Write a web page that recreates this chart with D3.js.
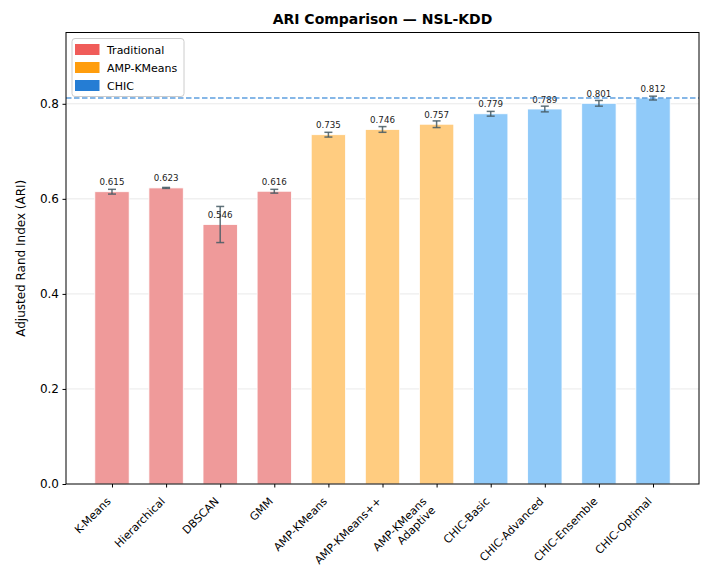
<!DOCTYPE html>
<html>
<head>
<meta charset="utf-8">
<script src="https://cdn.jsdelivr.net/npm/d3@7"></script>
<style>
body{margin:0;background:#fff;}
svg{display:block;font-family:"DejaVu Sans",sans-serif;}
</style>
</head>
<body>
<svg id="chart" width="707" height="568"></svg>
<script>
const methods = ["K-Means","Hierarchical","DBSCAN","GMM","AMP-KMeans","AMP-KMeans++","AMP-KMeans\nAdaptive","CHIC-Basic","CHIC-Advanced","CHIC-Ensemble","CHIC-Optimal"];
const groups = ["Traditional","Traditional","Traditional","Traditional","AMP-KMeans","AMP-KMeans","AMP-KMeans","CHIC","CHIC","CHIC","CHIC"];
const ariValues = [0.615,0.623,0.546,0.616,0.735,0.746,0.757,0.779,0.789,0.801,0.812];
const ariErrors = [0.005,0.001,0.038,0.004,0.005,0.006,0.007,0.005,0.006,0.006,0.004];
const legendLabels = ["Traditional","AMP-KMeans","CHIC"];
const barColors = {"Traditional":"#EF9A9A","AMP-KMeans":"#FFCC80","CHIC":"#90CAF9"};
const legendColors = {"Traditional":"#EF5350","AMP-KMeans":"#FF9800","CHIC":"#1976D2"};
const yTicks = [0.0,0.2,0.4,0.6,0.8];
const bestValue = 0.812;

const svg = d3.select("#chart");
const L=66, R=699, T=32.5, B=484;
const x = d3.scaleLinear().domain([-0.85,10.85]).range([L,R]);
const y = d3.scaleLinear().domain([0,0.95]).range([B,T]);
const bw = x(0.635)-x(0);

// grid
svg.append("g").selectAll("line").data(yTicks.filter(d=>d>0)).join("line")
  .attr("x1",L).attr("x2",R).attr("y1",d=>y(d)).attr("y2",d=>y(d))
  .attr("stroke","#b0b0b0").attr("stroke-opacity",0.35).attr("stroke-width",0.8);

// bars
svg.append("g").selectAll("rect").data(ariValues).join("rect")
  .attr("x",(d,i)=>x(i)-bw/2).attr("width",bw)
  .attr("y",d=>y(d)).attr("height",d=>B-y(d))
  .attr("fill",(d,i)=>barColors[groups[i]])
  .attr("stroke","#ffffff").attr("stroke-width",0.8);

// error bars
const eg = svg.append("g").attr("stroke","#455A64").attr("stroke-width",1.5).attr("stroke-opacity",0.85);
ariValues.forEach((v,i)=>{
  const e=ariErrors[i], cx=x(i);
  eg.append("line").attr("x1",cx).attr("x2",cx).attr("y1",y(v+e)).attr("y2",y(v-e));
  eg.append("line").attr("x1",cx-4).attr("x2",cx+4).attr("y1",y(v+e)).attr("y2",y(v+e));
  eg.append("line").attr("x1",cx-4).attr("x2",cx+4).attr("y1",y(v-e)).attr("y2",y(v-e));
});

// value labels
svg.append("g").selectAll("text").data(ariValues).join("text")
  .attr("x",(d,i)=>x(i)).attr("y",d=>y(d)-6.5)
  .attr("text-anchor","middle").attr("font-size",8.7).attr("fill","#222")
  .text(d=>d.toFixed(3));

// best line
svg.append("line").attr("x1",L).attr("x2",R).attr("y1",y(bestValue)).attr("y2",y(bestValue))
  .attr("stroke","#1976D2").attr("stroke-opacity",0.7).attr("stroke-width",1.5)
  .attr("stroke-dasharray","5.5,2.5");

// frame
svg.append("rect").attr("x",L).attr("y",T).attr("width",R-L).attr("height",B-T)
  .attr("fill","none").attr("stroke","#000").attr("stroke-width",1);

// y axis
const ya = svg.append("g").attr("transform",`translate(${L},0)`)
  .call(d3.axisLeft(y).tickValues(yTicks).tickFormat(d3.format(".1f")).tickSize(3.5).tickPadding(3.5));
ya.select(".domain").remove();
ya.selectAll("text").attr("font-size",12).attr("font-family","DejaVu Sans").attr("fill","#000");
ya.selectAll("line").attr("stroke","#000");

// x axis
const xa = svg.append("g").attr("transform",`translate(0,${B})`)
  .call(d3.axisBottom(x).tickValues(d3.range(methods.length)).tickFormat("").tickSize(3.5));
xa.select(".domain").remove();
xa.selectAll("line").attr("stroke","#000");

const xl = svg.append("g");
const lh = 12.5;
methods.forEach((m,i)=>{
  const lines=m.split("\n");
  const ax = x(i) - 0.5 - 0.707*lh*(lines.length-1);
  const t = xl.append("text")
    .attr("transform",`translate(${ax},${B+18}) rotate(-45)`)
    .attr("text-anchor","end").attr("font-size",11).attr("fill","#000");
  lines.forEach((ln,k)=>{
    t.append("tspan").attr("x",0).attr("dy",k===0?"0px":lh+"px").text(ln);
  });
});

// title
svg.append("text").attr("x",(L+R)/2).attr("y",24).attr("text-anchor","middle")
  .attr("font-size",14).attr("font-weight","bold").text("ARI Comparison — NSL-KDD");

// y label
svg.append("text").attr("transform",`translate(25,${(T+B)/2}) rotate(-90)`)
  .attr("text-anchor","middle").attr("font-size",12).text("Adjusted Rand Index (ARI)");

// legend
const lg = svg.append("g").attr("transform","translate(72,38.5)");
lg.append("rect").attr("width",112).attr("height",58).attr("rx",3)
  .attr("fill","#fff").attr("fill-opacity",0.85).attr("stroke","#cccccc").attr("stroke-width",1);
legendLabels.forEach((g,k)=>{
  lg.append("rect").attr("x",3).attr("y",5.5+k*18).attr("width",24.5).attr("height",11)
    .attr("fill",legendColors[g]).attr("fill-opacity",0.95);
  lg.append("text").attr("x",35).attr("y",15+k*18).attr("font-size",11).text(g);
});
</script>
</body>
</html>
